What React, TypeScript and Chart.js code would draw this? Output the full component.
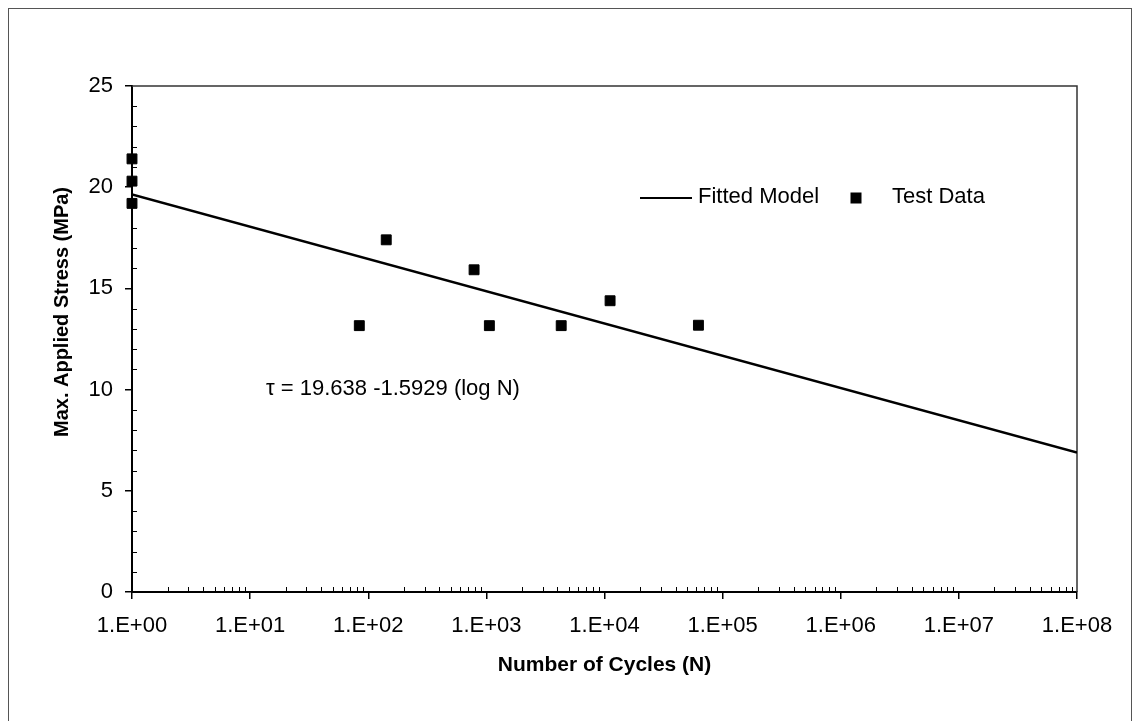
import React, { useEffect, useRef } from 'react';
import { Chart, registerables } from 'chart.js';

Chart.register(...registerables);

// ---- data ----
const fitLabel = 'Fitted Model';
const fitN = [1, 1e8];
const fitStress = [19.638, 6.895];

const dataLabel = 'Test Data';
const testN = [1, 1, 1, 84, 142, 787, 1060, 4300, 11150, 62400];
const testStress = [21.4, 20.3, 19.2, 13.16, 17.4, 15.92, 13.16, 13.16, 14.39, 13.18];

const xTickValues = [1, 10, 100, 1e3, 1e4, 1e5, 1e6, 1e7, 1e8];
const yTickValues = [0, 5, 10, 15, 20, 25];
const xTitle = 'Number of Cycles (N)';
const yTitle = 'Max. Applied Stress (MPa)';
const equation = 'τ = 19.638 -1.5929 (log N)';

const FONT = '"Liberation Sans", Arial, Helvetica, sans-serif';

const decor = {
  id: 'decor',
  beforeDatasetsDraw(chart: any) {
    const { ctx, chartArea: a, scales } = chart;
    const x = scales.x;
    const y = scales.y;
    ctx.save();
    // plot frame (top/right)
    ctx.strokeStyle = '#333';
    ctx.lineWidth = 1.5;
    ctx.beginPath();
    ctx.moveTo(a.left, a.top);
    ctx.lineTo(a.right, a.top);
    ctx.lineTo(a.right, a.bottom);
    ctx.stroke();
    // minor ticks (inward)
    ctx.strokeStyle = '#000';
    ctx.lineWidth = 1;
    ctx.beginPath();
    for (let d = 0; d < 8; d++) {
      for (let k = 2; k <= 9; k++) {
        const px = Math.round(x.getPixelForValue(k * Math.pow(10, d))) + 0.5;
        ctx.moveTo(px, a.bottom);
        ctx.lineTo(px, a.bottom - 5);
      }
    }
    for (let v = 1; v < 25; v++) {
      if (v % 5 === 0) continue;
      const py = Math.round(y.getPixelForValue(v)) + 0.5;
      ctx.moveTo(a.left, py);
      ctx.lineTo(a.left + 5, py);
    }
    ctx.stroke();
    ctx.restore();
  },
  afterDraw(chart: any) {
    const { ctx } = chart;
    const ds = chart.data.datasets;
    ctx.save();
    ctx.fillStyle = '#000';
    ctx.strokeStyle = '#000';
    // legend
    ctx.lineWidth = 2;
    ctx.beginPath();
    ctx.moveTo(640, 198);
    ctx.lineTo(692, 198);
    ctx.stroke();
    ctx.font = `22px ${FONT}`;
    ctx.textBaseline = 'middle';
    ctx.textAlign = 'left';
    ctx.fillText(ds[0].label, 698, 197);
    ctx.fillRect(850.5, 192.5, 11, 11);
    ctx.fillText(ds[1].label, 892, 197);
    // equation
    ctx.fillText(equation, 266, 389);
    // y title
    ctx.font = `bold 20px ${FONT}`;
    ctx.translate(62, 312);
    ctx.rotate(-Math.PI / 2);
    ctx.textAlign = 'center';
    ctx.fillText(yTitle, 0, 0);
    ctx.restore();
  },
};

export default function App() {
  const ref = useRef<HTMLCanvasElement | null>(null);

  useEffect(() => {
    if (!ref.current) return;
    const chart = new Chart(ref.current, {
      type: 'scatter',
      data: {
        datasets: [
          {
            label: fitLabel,
            data: fitN.map((n, i) => ({ x: n, y: fitStress[i] })),
            showLine: true,
            borderColor: '#000',
            borderWidth: 2.5,
            pointRadius: 0,
            fill: false,
          },
          {
            label: dataLabel,
            data: testN.map((n, i) => ({ x: n, y: testStress[i] })),
            showLine: false,
            pointStyle: 'rect',
            pointRadius: 7,
            backgroundColor: '#000',
            borderColor: '#000',
            borderWidth: 1,
            clip: false,
          } as any,
        ],
      },
      options: {
        responsive: false,
        animation: false,
        events: [],
        layout: { padding: { top: 86, right: 55, left: 0, bottom: 0 } },
        plugins: {
          legend: { display: false },
          tooltip: { enabled: false },
          title: { display: false },
        },
        scales: {
          x: {
            type: 'logarithmic',
            min: 1,
            max: 1e8,
            afterBuildTicks: (s: any) => {
              s.ticks = xTickValues.map((v) => ({ value: v }));
            },
            afterFit: (s: any) => {
              s.height = 129;
            },
            ticks: {
              autoSkip: false,
              maxRotation: 0,
              color: '#000',
              padding: 14,
              font: { family: FONT, size: 22 },
              callback: (v: any) => {
                const e = Math.round(Math.log10(Number(v)));
                return '1.E+' + String(e).padStart(2, '0');
              },
            },
            grid: {
              drawOnChartArea: false,
              drawTicks: true,
              tickLength: 7,
              color: '#000',
              lineWidth: 1.5,
            },
            border: { color: '#000', width: 2 },
            title: {
              display: true,
              text: xTitle,
              color: '#000',
              font: { family: FONT, size: 21, weight: 'bold' },
              padding: { top: 0, bottom: 43 },
            },
          },
          y: {
            type: 'linear',
            min: 0,
            max: 25,
            afterBuildTicks: (s: any) => {
              s.ticks = yTickValues.map((v) => ({ value: v }));
            },
            afterFit: (s: any) => {
              s.width = 132;
            },
            ticks: {
              color: '#000',
              padding: 12,
              font: { family: FONT, size: 22 },
            },
            grid: {
              drawOnChartArea: false,
              drawTicks: true,
              tickLength: 7,
              color: '#000',
              lineWidth: 1.5,
            },
            border: { color: '#000', width: 2 },
          },
        },
      } as any,
      plugins: [decor],
    });
    return () => chart.destroy();
  }, []);

  return (
    <div style={{ position: 'fixed', left: 0, top: 0, width: 1132, height: 721, background: '#fff', overflow: 'hidden' }}>
      <div
        style={{
          position: 'absolute',
          left: 8,
          top: 8,
          width: 1124,
          height: 760,
          border: '1px solid #555',
          boxSizing: 'border-box',
        }}
      />
      <canvas ref={ref} width={1132} height={721} style={{ position: 'absolute', left: 0, top: 0, display: 'block' }} />
    </div>
  );
}
